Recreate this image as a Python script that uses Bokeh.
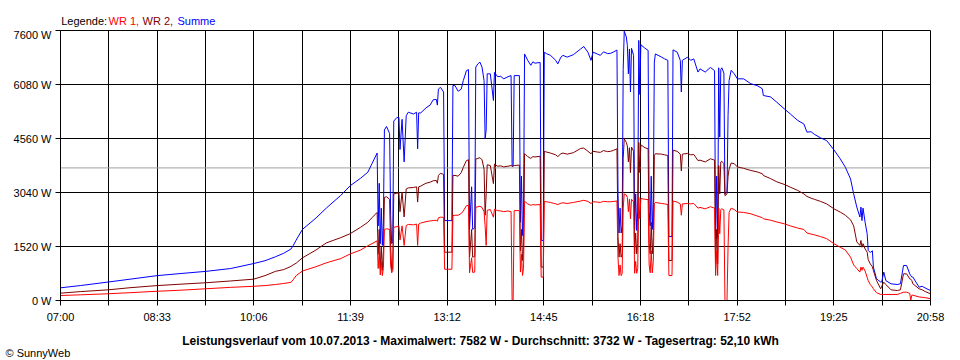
from bokeh.plotting import figure
from bokeh.layouts import column
from bokeh.models import FixedTicker, Span, Label, PrintfTickFormatter
from bokeh.embed import file_html
from bokeh.resources import INLINE

# ---------------- data ----------------
times = [
    "07:00", "07:19", "07:46", "08:07", "08:33", "08:56", "09:20", "09:44", "10:06", "10:17",
    "10:27", "10:35", "10:42", "10:44", "10:47", "10:53", "11:06", "11:16", "11:30", "11:39",
    "11:49", "11:56", "12:00", "12:05",
    "12:06", "12:07", "12:08", "12:09", "12:10", "12:11", "12:12", "12:14", "12:17", "12:18",
    "12:19", "12:20", "12:21", "12:24", "12:26", "12:27", "12:29", "12:31", "12:33", "12:35",
    "12:40", "12:43", "12:44", "12:45", "12:47", "12:52", "12:56", "12:59", "13:02", "13:03",
    "13:04", "13:06", "13:09", "13:10", "13:17", "13:18", "13:20", "13:23", "13:26", "13:28",
    "13:31", "13:33", "13:34", "13:36", "13:37", "13:39", "13:40", "13:42", "13:44", "13:46",
    "13:48", "13:49", "13:50", "13:51", "13:54", "13:57", "13:58", "14:01", "14:04",
    "14:07", "14:11", "14:14", "14:15", "14:16", "14:17", "14:22", "14:23", "14:24", "14:25",
    "14:26", "14:27", "14:28", "14:30", "14:33", "14:35", "14:37", "14:42", "14:43", "14:45",
    "14:46", "14:48", "14:52", "14:57", "14:59", "15:02", "15:04", "15:08", "15:14", "15:21",
    "15:24", "15:28", "15:31", "15:33", "15:37", "15:40", "15:43", "15:47", "15:50", "15:53",
    "15:56", "15:57", "15:58", "15:59", "16:00", "16:01", "16:02", "16:03", "16:05", "16:06",
    "16:07", "16:08", "16:09", "16:10", "16:12", "16:13", "16:14", "16:15", "16:16", "16:17",
    "16:18", "16:19", "16:23", "16:26", "16:27", "16:28", "16:29", "16:30", "16:31", "16:32",
    "16:33", "16:39", "16:42", "16:45", "16:46", "16:49", "16:50", "16:54", "16:57", "16:58",
    "16:59", "17:04", "17:07", "17:10", "17:14", "17:16",
    "17:21", "17:26", "17:30", "17:31", "17:32", "17:33", "17:34", "17:35", "17:36", "17:37",
    "17:39", "17:40", "17:42", "17:43", "17:44", "17:46", "17:49", "17:52", "17:58", "18:05",
    "18:11", "18:16", "18:17", "18:24", "18:30", "18:37", "18:43", "18:50", "18:56", "18:59",
    "19:03", "19:06", "19:12", "19:18", "19:25", "19:31", "19:36", "19:41", "19:44", "19:47",
    "19:50", "19:51", "19:52", "19:53", "19:55", "19:57", "19:58", "20:00", "20:02", "20:03",
    "20:06", "20:10", "20:11", "20:13", "20:15", "20:20", "20:26", "20:29", "20:32", "20:35",
    "20:38", "20:39", "20:40", "20:41", "20:47", "20:50", "20:53", "20:58",
]

summe = [
    357, 420, 520, 600, 700, 760, 820, 900, 1040, 1120,
    1230, 1330, 1450, 1540, 1700, 2000, 2320, 2600, 2960, 3230,
    3440, 3610, 3850, 4150,
    2100, 3300, 1600, 2600, 1550, 2200, 4800, 4900, 4700, 2400,
    1600, 1650, 5050, 5150, 5150, 4250, 5100, 3900, 5200, 5300,
    5250, 5300, 4270, 5280, 5280, 5420, 5500, 5650, 5660, 5500,
    5950, 6000, 5870, 2250, 2250, 6050, 6050, 5890, 5950, 6190,
    6470, 6500, 2000, 3200, 2000, 2050, 6570, 6660, 6710, 6570,
    6190, 4550, 4800, 6380, 6380, 5630, 6420, 6300, 6310,
    6240, 6300, 6330, 3780, 3780, 6330, 6330, 2200, 3500, 1830,
    2400, 6940, 6880, 6760, 6620, 6720, 6680, 6700, 1700, 1680,
    6990, 6950, 6900, 6760, 6660, 6850, 6900, 6850, 6920, 7080,
    7150, 6990, 6760, 6990, 6940, 6900, 7000, 6950, 6960, 7000,
    7050, 3000, 1900, 2600, 1900, 2100, 6500, 7580, 7420, 7180,
    6380, 7080, 5870, 7100, 6900, 2000, 3000, 1970, 2500, 7320,
    5800, 7200, 7100, 7040, 2500, 2100, 3500, 2000, 2800, 6710,
    6940, 6850, 6800, 6760, 1800, 1800, 7055, 6990, 6760, 5870,
    6760, 6850, 6760, 6800, 6430, 6520,
    6430, 6560, 6470, 1750, 3500, 1750, 6550, 4600, 6500, 6550,
    6400, 3000, 3050, 5200, 6190, 6480, 6380, 6240, 6240, 6100,
    6050, 5960, 5770, 5730, 5580, 5400, 5250, 5070, 4970, 4740,
    4750, 4680, 4580, 4500, 4240, 3990, 3750, 3420, 3000, 2630,
    2350, 2630, 2250, 2600, 2200, 1880, 1410, 1350, 1400, 940,
    610, 520, 520, 800, 560, 470, 450, 470, 985, 985,
    750, 700, 660, 660, 375, 400, 350, 280,
]

wr2 = [
    206, 250, 300, 360, 420, 460, 500, 550, 600, 700,
    820, 870, 960, 1000, 1050, 1200, 1420, 1620, 1770, 1880,
    2060, 2200, 2330, 2480,
    1300, 2000, 900, 1500, 850, 1400, 2900, 2920, 2850, 1500,
    850, 900, 3000, 3020, 3030, 2500, 3050, 2350, 3140, 3170,
    3180, 3200, 2770, 3200, 3220, 3300, 3330, 3370, 3380, 3300,
    3520, 3580, 3550, 1360, 1360, 3520, 3520, 3500, 3600, 3750,
    3940, 3960, 1220, 2000, 1220, 1240, 3980, 4000, 4020, 3960,
    3700, 2400, 3000, 3820, 3800, 3290, 3840, 3780, 3790,
    3760, 3780, 3800, 3780, 3780, 3800, 3810, 1400, 2000, 1126,
    1500, 4130, 4110, 4050, 4000, 4050, 4040, 4060, 940, 940,
    4200, 4180, 4150, 4100, 4050, 4130, 4150, 4120, 4160, 4280,
    4290, 4200, 4130, 4200, 4180, 4170, 4220, 4190, 4200, 4230,
    4270, 1800, 1220, 1600, 1220, 1300, 4000, 4550, 4450, 4350,
    3900, 4300, 3600, 4320, 4200, 1313, 1900, 1313, 1600, 4450,
    3600, 4380, 4300, 4270, 1600, 1313, 2200, 1313, 1800, 4080,
    4130, 4120, 4100, 4080, 1126, 1126, 4230, 4200, 4120, 3650,
    4120, 4140, 4100, 4110, 3940, 3950,
    3900, 3990, 3950, 1030, 2000, 1030, 3800, 3000, 3900, 3920,
    3850, 2950, 3000, 3500, 3700, 3870, 3850, 3760, 3720, 3660,
    3620, 3570, 3520, 3430, 3340, 3270, 3190, 3100, 3000, 2930,
    2880, 2850, 2790, 2720, 2580, 2490, 2400, 2270, 2100, 1650,
    1550, 1690, 1500, 1600, 1450, 1360, 1150, 1030, 950, 845,
    563, 330, 400, 516, 450, 300, 281, 300, 750, 750,
    610, 600, 560, 470, 330, 300, 250, 190,
]

wr1 = [
    140, 160, 190, 220, 260, 290, 330, 370, 400, 420,
    450, 480, 510, 580, 700, 830, 950, 1060, 1180, 1310,
    1420, 1540, 1600, 1680,
    900, 1400, 720, 1100, 700, 900, 2000, 2020, 2000, 1000,
    780, 820, 2060, 2080, 2100, 1700, 2100, 1550, 2110, 2140,
    2130, 2150, 1550, 2150, 2180, 2220, 2240, 2250, 2260, 2230,
    2330, 2345, 2340, 880, 880, 2390, 2400, 2400, 2450, 2520,
    2670, 2680, 780, 1200, 790, 800, 2620, 2640, 2650, 2620,
    2500, 2100, 1550, 2540, 2560, 2345, 2570, 2530, 2520,
    2500, 2520, 2500, 0, 0, 2530, 2530, 800, 1300, 704,
    900, 2790, 2770, 2720, 2680, 2700, 2690, 2700, 660, 656,
    2790, 2780, 2760, 2720, 2700, 2740, 2750, 2730, 2760, 2800,
    2820, 2790, 2730, 2780, 2770, 2760, 2790, 2780, 2780, 2790,
    2800, 1200, 704, 1000, 700, 760, 2600, 3000, 2970, 2900,
    2500, 2850, 2300, 2850, 2780, 767, 1100, 767, 900, 2900,
    2300, 2870, 2850, 2840, 1000, 780, 1400, 780, 1100, 2720,
    2760, 2730, 2720, 2700, 704, 704, 2800, 2770, 2720, 2400,
    2720, 2730, 2720, 2730, 2600, 2620,
    2580, 2640, 2600, 704, 1400, 704, 2600, 1880, 2560, 2580,
    2550, 0, 0, 1500, 2480, 2600, 2560, 2490, 2480, 2440,
    2380, 2330, 2300, 2260, 2210, 2160, 2100, 2040, 2000, 1900,
    1870, 1850, 1800, 1740, 1600, 1500, 1420, 1220, 1000, 900,
    800, 940, 850, 940, 830, 650, 560, 450, 380, 330,
    220, 170, 170, 170, 170, 170, 170, 200, 234, 234,
    200, 0, 150, 150, 100, 90, 80, 50,
]

x_tick_labels = ["07:00", "08:33", "10:06", "11:39", "13:12",
                 "14:45", "16:18", "17:52", "19:25", "20:58"]
y_ticks = [0, 1520, 3040, 4560, 6080, 7600]
durchschnitt = 3732
legend_texts = ["Legende:", "WR 1,", "WR 2,", "Summe"]
legend_colors = ["black", "#ff0000", "#800000", "#0000ff"]
title_text = ("Leistungsverlauf vom 10.07.2013 - Maximalwert: 7582 W - "
              "Durchschnitt: 3732 W - Tagesertrag: 52,10 kWh")
credit_text = "\u00a9 SunnyWeb"


def to_min(s):
    h, m = s.split(":")
    return int(h) * 60 + int(m)


t = [to_min(s) for s in times]
x0 = to_min(x_tick_labels[0])
x1 = to_min(x_tick_labels[-1])
n = len(x_tick_labels) - 1
step = (x1 - x0) / n
major = [round(x0 + i * step, 4) for i in range(n + 1)]
minor = [round(x0 + (i + 0.5) * step, 4) for i in range(n)]

FONT = "Liberation Sans"
W = 960


def text_strip(height):
    f = figure(width=W, height=height, x_range=(0, 1), y_range=(0, 1),
               x_axis_type=None, y_axis_type=None, output_backend="svg",
               toolbar_location=None, min_border=0)
    f.frame_align = False
    f.outline_line_color = None
    f.background_fill_color = "white"
    f.border_fill_color = "white"
    f.grid.visible = False
    return f


# ---- top strip: legend ----
TOP_H = 28
top = text_strip(TOP_H)
legend_x = [60.7, 108, 142, 177]
for txt, col, xx in zip(legend_texts, legend_colors, legend_x):
    top.add_layout(Label(x=xx, y=TOP_H - 20.7, x_units="screen", y_units="screen", text=txt,
                         text_color=col, text_font=FONT, text_font_size="11px",
                         text_baseline="alphabetic", text_align="left"))

# ---- main chart ----
p = figure(width=W, height=302, x_range=(x0, x1), y_range=(y_ticks[0], y_ticks[-1]),
           output_backend="svg", toolbar_location=None,
           min_border_left=60, min_border_right=30, min_border_top=2, min_border_bottom=30)
p.frame_align = False
p.background_fill_color = "white"
p.border_fill_color = "white"
p.outline_line_color = "black"
p.outline_line_alpha = 1.0
p.outline_line_width = 1

xt = FixedTicker(ticks=major, minor_ticks=minor)
p.xaxis.ticker = xt
p.xaxis.major_label_overrides = {v: lab for v, lab in zip(major, x_tick_labels)}
p.xgrid.ticker = xt
p.xgrid.grid_line_color = "black"
p.xgrid.grid_line_alpha = 1.0
p.xgrid.minor_grid_line_color = "black"
p.xgrid.minor_grid_line_alpha = 1.0

yt = FixedTicker(ticks=y_ticks)
p.yaxis.ticker = yt
p.yaxis.formatter = PrintfTickFormatter(format="%d W")
p.ygrid.ticker = yt
p.ygrid.grid_line_color = "black"
p.ygrid.grid_line_alpha = 1.0

for ax in (p.xaxis[0], p.yaxis[0]):
    ax.axis_line_color = "black"
    ax.major_tick_line_color = "black"
    ax.minor_tick_line_color = "black"
    ax.major_tick_in = 0
    ax.major_tick_out = 5
    ax.minor_tick_in = 0
    ax.minor_tick_out = 5
    ax.major_label_text_font = FONT
    ax.major_label_text_font_size = "11px"
    ax.major_label_text_color = "black"
p.yaxis.minor_tick_out = 0
p.xaxis.major_label_standoff = 5
p.yaxis.major_label_standoff = 4

avg = Span(location=durchschnitt, dimension="width", line_color="#a0a0a0", line_width=1,
           level="underlay")
p.add_layout(avg)

p.line(t, summe, line_color="#0000ff", line_width=1)
p.line(t, wr2, line_color="#800000", line_width=1)
p.line(t, wr1, line_color="#ff0000", line_width=1)

# ---- bottom strip: title and credit ----
BOT_H = 30
bottom = text_strip(BOT_H)
bottom.add_layout(Label(x=480, y=BOT_H - 10.7, x_units="screen", y_units="screen", text=title_text,
                        text_color="black", text_font=FONT, text_font_size="12px",
                        text_font_style="bold", text_baseline="alphabetic", text_align="center"))
bottom.add_layout(Label(x=5, y=BOT_H - 22.3, x_units="screen", y_units="screen", text=credit_text,
                        text_color="black", text_font=FONT, text_font_size="11px",
                        text_baseline="alphabetic", text_align="left"))

layout = column(top, p, bottom, spacing=0)
open("out.html", "w").write(file_html(layout, INLINE))
